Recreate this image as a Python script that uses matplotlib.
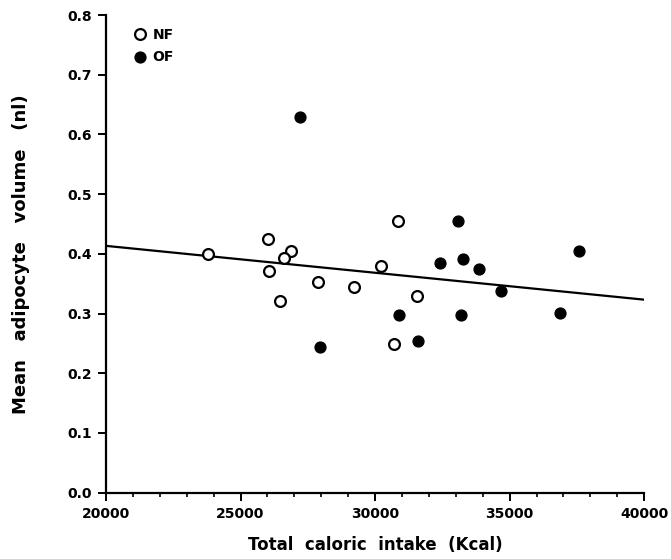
import matplotlib
matplotlib.use("Agg")
import matplotlib.pyplot as plt
from matplotlib.ticker import MultipleLocator, FormatStrFormatter

# Data
nf_x = [23785, 26022, 26891, 26605, 26074, 26468, 27892, 29213, 30230, 30835, 31540, 30686]
nf_y = [0.400, 0.4245, 0.404, 0.393, 0.372, 0.321, 0.353, 0.345, 0.380, 0.455, 0.329, 0.249]
of_x = [27210, 27952, 30883, 31603, 33098, 32430, 33273, 33852, 34683, 33210, 36857, 37577]
of_y = [0.630, 0.244, 0.297, 0.254, 0.455, 0.384, 0.392, 0.375, 0.338, 0.297, 0.301, 0.405]
fit_x = [20000, 40000]
fit_y = [0.4134, 0.3233]

plt.rcParams['font.family'] = ['DejaVu Sans']
plt.rcParams['font.weight'] = 'bold'

fig = plt.figure(figsize=(6.71, 5.59), dpi=100)
ax = fig.add_axes([0.158, 0.1186, 0.802, 0.8545])

ax.plot(fit_x, fit_y, color='black', lw=1.6, zorder=1)
ax.plot(nf_x, nf_y, 'o', ms=7.8, mfc='white', mec='black', mew=1.6, label='NF', zorder=3)
ax.plot(of_x, of_y, 'o', ms=7.8, mfc='black', mec='black', mew=1.0, label='OF', zorder=3)

ax.set_xlim(20000, 40000)
ax.set_ylim(0, 0.8)
ax.xaxis.set_major_locator(MultipleLocator(5000))
ax.xaxis.set_minor_locator(MultipleLocator(1000))
ax.yaxis.set_major_locator(MultipleLocator(0.1))
ax.yaxis.set_major_formatter(FormatStrFormatter('%.1f'))

for s in ['top', 'right']:
    ax.spines[s].set_visible(False)
for s in ['left', 'bottom']:
    ax.spines[s].set_linewidth(1.6)

ax.tick_params(axis='both', which='major', direction='out', length=6, width=1.4,
               labelsize=10, pad=4)
ax.tick_params(axis='x', which='minor', direction='out', length=3, width=1.2)
for lab in ax.get_xticklabels() + ax.get_yticklabels():
    lab.set_fontweight('bold')

ax.set_xlabel('Total  caloric  intake  (Kcal)', fontsize=12, fontweight='bold', labelpad=11)
ax.set_ylabel('Mean   adipocyte   volume   (nl)', fontsize=13, fontweight='bold', labelpad=27)

leg = ax.legend(loc='upper left', bbox_to_anchor=(0.035, 0.99), frameon=False,
                fontsize=10, handletextpad=0.4, labelspacing=0.6, handlelength=1.0,
                borderaxespad=0.2)
for t in leg.get_texts():
    t.set_fontweight('bold')

fig.savefig('out.png', dpi=100)
